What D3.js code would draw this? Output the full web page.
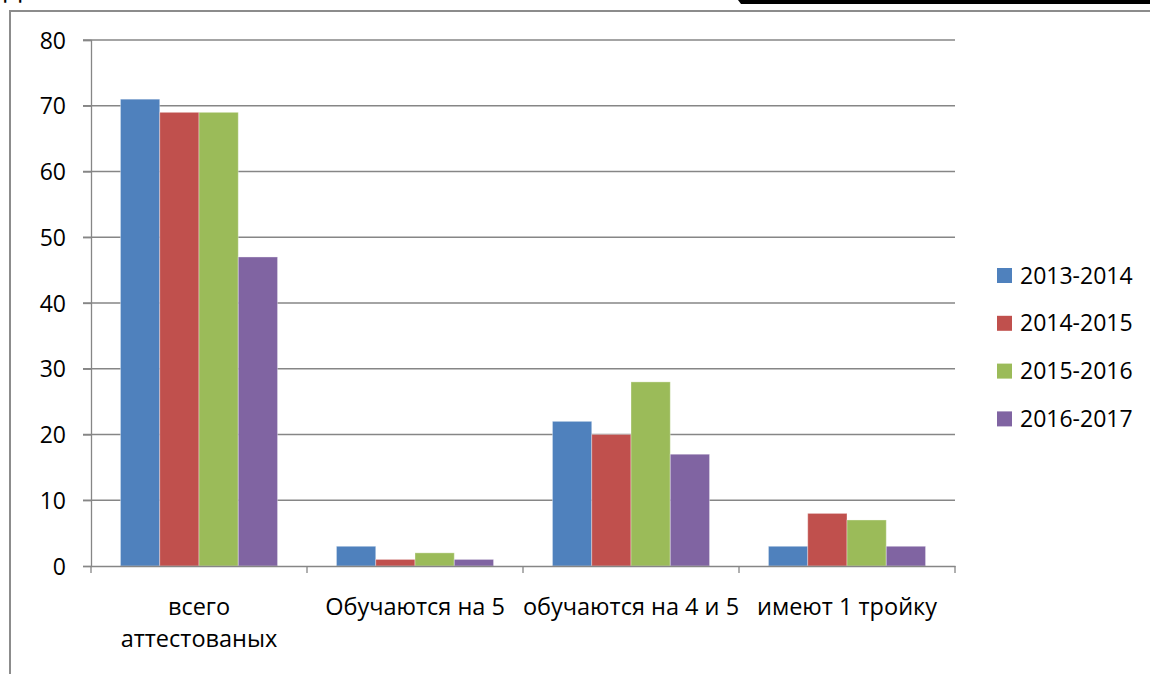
<!DOCTYPE html>
<html><head><meta charset="utf-8">
<script src="https://cdn.jsdelivr.net/npm/d3@7"></script>
<style>body{margin:0;background:#fff;}svg{display:block;}</style>
</head><body>
<svg id="c" width="1150" height="674"></svg>
<script>
const categories = [["всего","аттестованых"],["Обучаются на 5"],["обучаются на 4 и 5"],["имеют 1 тройку"]];
const seriesNames = ["2013-2014","2014-2015","2015-2016","2016-2017"];
const seriesColors = ["#4F81BD","#C0504D","#9BBB59","#8064A2"];
const values2013 = [71,3,22,3];
const values2014 = [69,1,20,8];
const values2015 = [69,2,28,7];
const values2016 = [47,1,17,3];
const yTicks = [0,10,20,30,40,50,60,70,80];
const seriesValues = [values2013, values2014, values2015, values2016];

const svg = d3.select("#c");
const font = "'Open Sans', sans-serif";
const axisColor = "#868686";

// frame fragments
svg.append("rect").attr("x",10).attr("y",10).attr("width",1140).attr("height",2).attr("fill","#8c8c8c");
svg.append("rect").attr("x",9).attr("y",10).attr("width",2).attr("height",664).attr("fill","#8c8c8c");
svg.append("polygon").attr("points","738,0 1150,0 1150,4 741,4").attr("fill","#000");
svg.append("text").attr("x",4).attr("y",-2).attr("font-family",font).attr("font-size",26).attr("fill","#000").text("Д");

const catKeys = categories.map((c,i)=>i);
const x0 = d3.scaleBand().domain(catKeys).range([91,955]).padding(0);
const x1 = d3.scaleBand().domain(seriesNames).range([0,x0.bandwidth()]).paddingInner(0).paddingOuter(0.75);
const y = d3.scaleLinear().domain([0,80]).range([566,40]);

// gridlines
svg.append("g").selectAll("line").data(yTicks.filter(d=>d>0)).join("line")
  .attr("x1",83).attr("x2",955).attr("y1",d=>y(d)).attr("y2",d=>y(d))
  .attr("stroke",axisColor).attr("stroke-width",1.3);

// y axis
const yAxis = d3.axisLeft(y).tickValues(yTicks).tickSize(8).tickPadding(17);
const gy = svg.append("g").attr("transform","translate(91,0)").call(yAxis);
gy.select(".domain").attr("stroke",axisColor).attr("stroke-width",1.3);
gy.selectAll(".tick line").attr("stroke",axisColor).attr("stroke-width",1.3);
gy.selectAll(".tick text").attr("font-family",font).attr("font-size",23).attr("fill","#000").attr("dy","0.35em");

// bars
const groups = svg.append("g").selectAll("g").data(catKeys).join("g")
  .attr("transform",d=>`translate(${x0(d)},0)`);
groups.selectAll("rect").data(ci=>seriesNames.map((s,si)=>({s,si,v:seriesValues[si][ci]}))).join("rect")
  .attr("x",d=>x1(d.s)).attr("width",x1.bandwidth())
  .attr("y",d=>y(d.v)).attr("height",d=>y(0)-y(d.v))
  .attr("fill",d=>seriesColors[d.si])
  .attr("stroke","rgba(255,255,255,0.35)").attr("stroke-width",1);

// x axis
const xAxis = d3.axisBottom(x0).tickSize(0).tickFormat("");
const gx = svg.append("g").attr("transform",`translate(0,${y(0)})`).call(xAxis);
gx.select(".domain").attr("stroke",axisColor).attr("stroke-width",1.3);
const tickXs = catKeys.map(k=>x0(k)).concat([x0.range()[1]]);
svg.append("g").selectAll("line").data(tickXs).join("line")
  .attr("x1",d=>d).attr("x2",d=>d).attr("y1",y(0)).attr("y2",y(0)+7)
  .attr("stroke",axisColor).attr("stroke-width",1.3);

// x labels
const xl = svg.append("g").selectAll("text").data(catKeys).join("text")
  .attr("x",d=>x0(d)+x0.bandwidth()/2).attr("y",615)
  .attr("text-anchor","middle").attr("font-family",font).attr("font-size",23.5).attr("fill","#000");
xl.selectAll("tspan").data(d=>categories[d].map(t=>({t,x:x0(d)+x0.bandwidth()/2}))).join("tspan")
  .attr("x",d=>d.x).attr("dy",(d,i)=>i===0?0:32).text(d=>d.t);

// legend
const lg = svg.append("g").selectAll("g").data(seriesNames).join("g")
  .attr("transform",(d,i)=>`translate(997,${268+i*47.8})`);
lg.append("rect").attr("width",15).attr("height",15).attr("fill",(d,i)=>seriesColors[i]);
lg.append("text").attr("x",23).attr("y",7.5).attr("dy","0.35em")
  .attr("font-family",font).attr("font-size",23).attr("fill","#000").text(d=>d);
</script>
</body></html>
